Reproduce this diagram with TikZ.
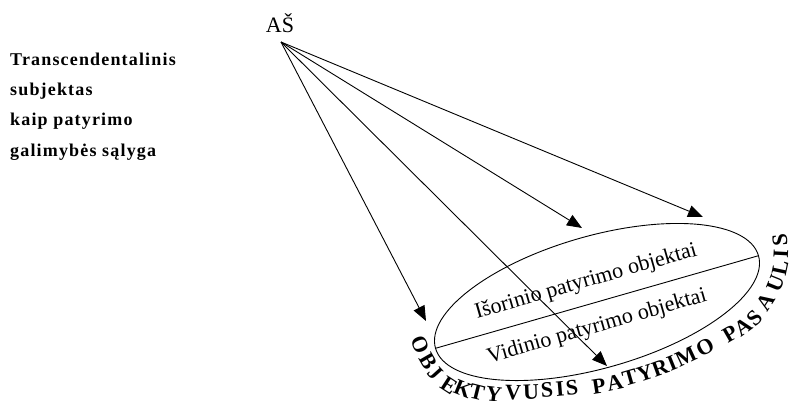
\documentclass[tikz,border=0pt]{standalone}
\usepackage{fontspec}
\setmainfont{Liberation Serif}
\newfontfamily\spacedserif{Liberation Serif}[LetterSpace=6.5]
\usetikzlibrary{arrows.meta, shapes.geometric}

\tikzset{
  ray/.style={draw, line width=0.9pt, -{Triangle[length=15pt, width=12pt]}},
  outline/.style={draw, line width=0.9pt},
  label/.style={font=\fontsize{22}{24}\selectfont, inner sep=0pt},
  arcletter/.style={font=\fontsize{22}{22}\selectfont\bfseries, inner sep=0pt, anchor=center},
}

\begin{document}
\begin{tikzpicture}[x=1pt, y=1pt]
  \useasboundingbox (0,0) rectangle (789,400);

  % caption on the left (base anchor sits on the last line)
  \node[anchor=base west, align=left, inner sep=0pt,
        font=\spacedserif\bfseries\fontsize{18}{30.3}\selectfont]
    (caption) at (10,244)
    {Transcendentalinis\\subjektas\\kaip patyrimo\\galimybės sąlyga};

  % the subject
  \node[label, anchor=base] (as) at (280,367) {AŠ};
  \coordinate (src) at (281,358);

  % the world of experience
  \node[outline, ellipse, rotate=16, minimum width=336pt, minimum height=132pt,
        inner sep=0pt] (world) at (597,98) {};
  \draw[outline] (world.west) -- (world.east);

  \node[label, rotate=16] (outer) at (586,118) {Išorinio patyrimo objektai};
  \node[label, rotate=16] (inner) at (597,73) {Vidinio patyrimo objektai};

  % rays from the subject
  \coordinate (t1) at (426,79);
  \coordinate (t2) at (607,34);
  \coordinate (t3) at (582,172);
  \coordinate (t4) at (703,183);
  \foreach \t in {t1,t2,t3,t4} \draw[ray] (src) -- (\t);

  % curved title: letter / centre x / centre y / turn, following the ellipse
  \foreach \ch/\px/\py/\ang [count=\i] in {
      O/420/55/-68, B/428/39/-60, J/435/27/-48, E/449/15/-33, K/463/11/-22,
      T/477/8/-14, Y/494/6/-7, V/513/7/-2, U/531/8/2, S/547/10/4, I/560/11/5,
      S/572/12/6,
      P/599/14/9, A/615/17/12, T/630/22/16, Y/645/27/18, R/660/32/20,
      I/672/37/22, M/686/43/25, O/705/53/28,
      P/730/66/30, A/743/73/36, S/755/82/45, A/766/98/57, U/776/117/68,
      L/780/132/78, I/781/146/87, S/780/160/95} {
    \node[arcletter, rotate=\ang] (arc\i) at (\px,\py) {\ch};
  }
\end{tikzpicture}
\end{document}
